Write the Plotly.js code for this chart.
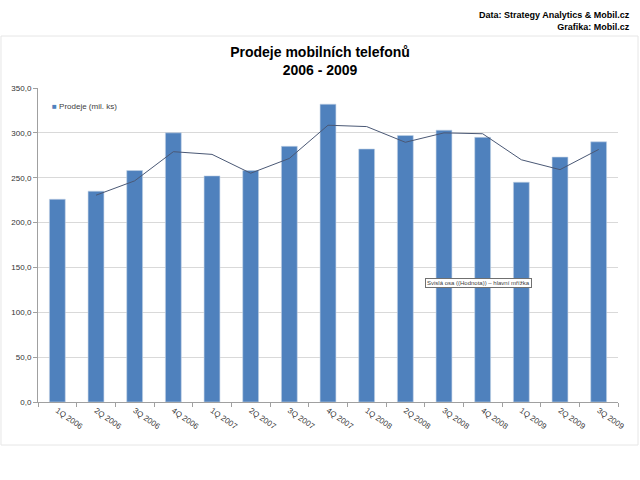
<!DOCTYPE html>
<html>
<head>
<meta charset="utf-8">
<script src="https://cdn.plot.ly/plotly-3.0.1.min.js"></script>
<style>
html,body{margin:0;padding:0;background:#fff;}
#chart{width:640px;height:480px;}
</style>
</head>
<body>
<div id="chart"></div>
<script>
// Categories (quarters)
var quarters = ["1Q 2006","2Q 2006","3Q 2006","4Q 2006","1Q 2007","2Q 2007","3Q 2007","4Q 2007",
                "1Q 2008","2Q 2008","3Q 2008","4Q 2008","1Q 2009","2Q 2009","3Q 2009"];
// Sales in millions of units
var sales = [226, 235, 258, 300, 252, 258, 285, 332, 282, 297, 303, 295, 245, 273, 290];
// Trend line (2-period moving average as drawn in the picture)
var trend = [null, 230.5, 246.5, 279, 276, 255, 271.5, 308.5, 307, 289.5, 300, 299, 270, 259, 281.5];
// Y-axis ticks
var yTicks = [0, 50, 100, 150, 200, 250, 300, 350];
var seriesName = "Prodeje (mil. ks)";

var FONT = "Liberation Sans, Arial, sans-serif";
var BAR_COLOR = "#4F81BD";

var traces = [
  {
    type: "bar",
    x: quarters,
    y: sales,
    name: seriesName,
    showlegend: false,
    marker: {color: BAR_COLOR, line: {color: "#C5D3E6", width: 0.6}},
    hoverinfo: "x+y"
  },
  {
    type: "scatter",
    mode: "lines",
    x: quarters,
    y: trend,
    showlegend: false,
    line: {color: "#4A5875", width: 1},
    connectgaps: false
  }
];

var layout = {
  width: 640,
  height: 480,
  margin: {l: 38, r: 22, t: 88, b: 78},
  paper_bgcolor: "#ffffff",
  plot_bgcolor: "#ffffff",
  separators: ", ",
  font: {family: FONT, size: 8, color: "#404040"},
  title: {
    text: "<b>Prodeje mobilních telefonů<br>2006 - 2009</b>",
    font: {family: FONT, size: 14, color: "#000000"},
    x: 0.5, xanchor: "center",
    y: 0.882, yanchor: "middle", yref: "container"
  },
  bargap: 0.59,
  showlegend: false,
  xaxis: {
    type: "category",
    tickangle: 35,
    tickfont: {family: FONT, size: 8, color: "#333333"},
    showline: true,
    linecolor: "#A0A0A0",
    linewidth: 1,
    ticks: "outside",
    tickson: "boundaries",
    ticklen: 4,
    tickcolor: "#A0A0A0",
    showgrid: false,
    zeroline: false
  },
  yaxis: {
    range: [0, 350],
    tickvals: yTicks,
    tickformat: ".1f",
    tickfont: {family: FONT, size: 8, color: "#333333"},
    showline: true,
    linecolor: "#A0A0A0",
    linewidth: 1,
    ticks: "outside",
    ticklen: 4,
    tickcolor: "#A0A0A0",
    showgrid: true,
    gridcolor: "#D9D9D9",
    gridwidth: 1,
    zeroline: false
  },
  shapes: [
    {
      type: "rect", xref: "paper", yref: "paper",
      x0: -0.0638, x1: 1.0345, y0: -0.137, y1: 1.1656,
      line: {color: "#E6E6E6", width: 1},
      fillcolor: "rgba(0,0,0,0)",
      layer: "below"
    }
  ],
  annotations: [
    {
      text: "<b>Data: Strategy Analytics & Mobil.cz<br>Grafika: Mobil.cz</b>",
      xref: "paper", yref: "paper",
      x: 1.024, y: 1.212,
      xanchor: "right", yanchor: "middle",
      align: "right",
      showarrow: false,
      font: {family: FONT, size: 9, color: "#000000"}
    },
    {
      text: "<span style='color:" + BAR_COLOR + "'>■</span> " + seriesName,
      xref: "paper", yref: "paper",
      x: 0.020, y: 0.94,
      xanchor: "left", yanchor: "middle",
      showarrow: false,
      font: {family: FONT, size: 8, color: "#404040"}
    },
    {
      text: "Svislá osa ((Hodnota)) – hlavní mřížka",
      xref: "paper", yref: "paper",
      x: 0.760, y: 0.378,
      xanchor: "center", yanchor: "middle",
      showarrow: false,
      font: {family: FONT, size: 6, color: "#404040"},
      bgcolor: "#ffffff",
      bordercolor: "#707070",
      borderwidth: 1,
      borderpad: 1
    }
  ]
};

Plotly.newPlot("chart", traces, layout, {displayModeBar: false, staticPlot: true});
</script>
</body>
</html>
